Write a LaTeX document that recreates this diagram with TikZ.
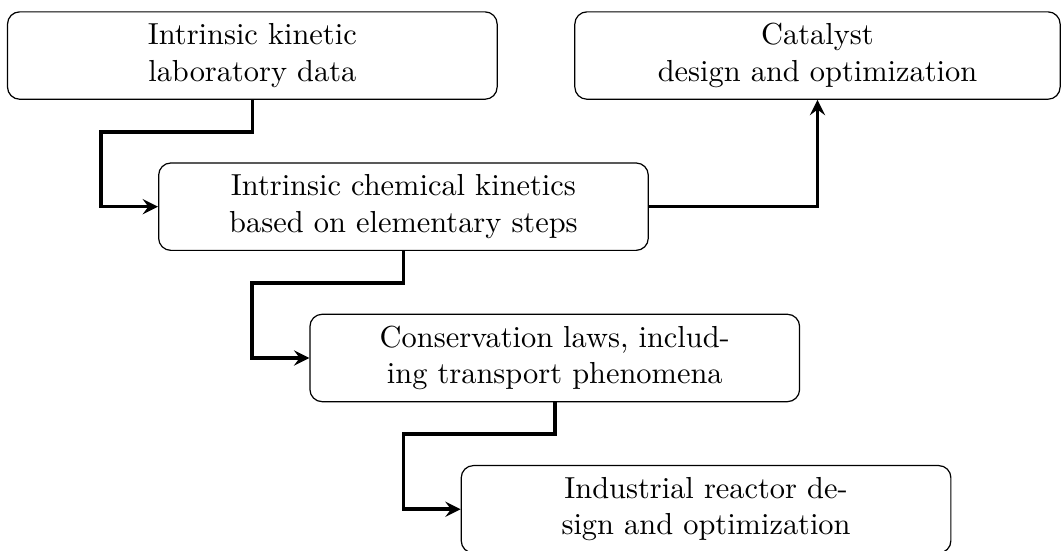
\documentclass[tikz,border=0pt]{standalone}
\usepackage{amsmath}
\usepackage{tikz}
\usetikzlibrary{arrows,shapes}
\tikzstyle{block}=[draw,rounded corners,align=center,minimum width=5.66cm,minimum height=1.01cm,inner sep=0pt]
\tikzstyle{conn} = [draw,very thick,-stealth]

\begin{document}
\begin{tikzpicture}
    \useasboundingbox (0,0) rectangle (12.265,-6.358);
    % First we draw the blocks
    \foreach \pos/\name/\txt in {{(2.917,-0.642)/lab/{Intrinsic kinetic\\laboratory data}},
        {(4.664,-2.389)/kin/{Intrinsic chemical kinetics\\based on elementary steps}},
        {(6.413,-4.138)/cons/{Conservation laws, includ-\\ing transport phenomena}},
        {(8.162,-5.887)/reac/{Industrial reactor de-\\sign and optimization}}}
        \node[block] (\name) at \pos {\txt};
    \node[block,minimum width=5.61cm] (cat) at (9.450,-0.642) {Catalyst\\design and optimization};
    % Connect blocks with arrows
    \foreach \source/ \dest in {lab/kin, kin/cons, cons/reac}
        \path[conn] (\source.south) |- ++(-1.75,-0.37) |- (\dest.west);
    \path[conn] (kin.east) -| (cat.south);
\end{tikzpicture}
\end{document}
